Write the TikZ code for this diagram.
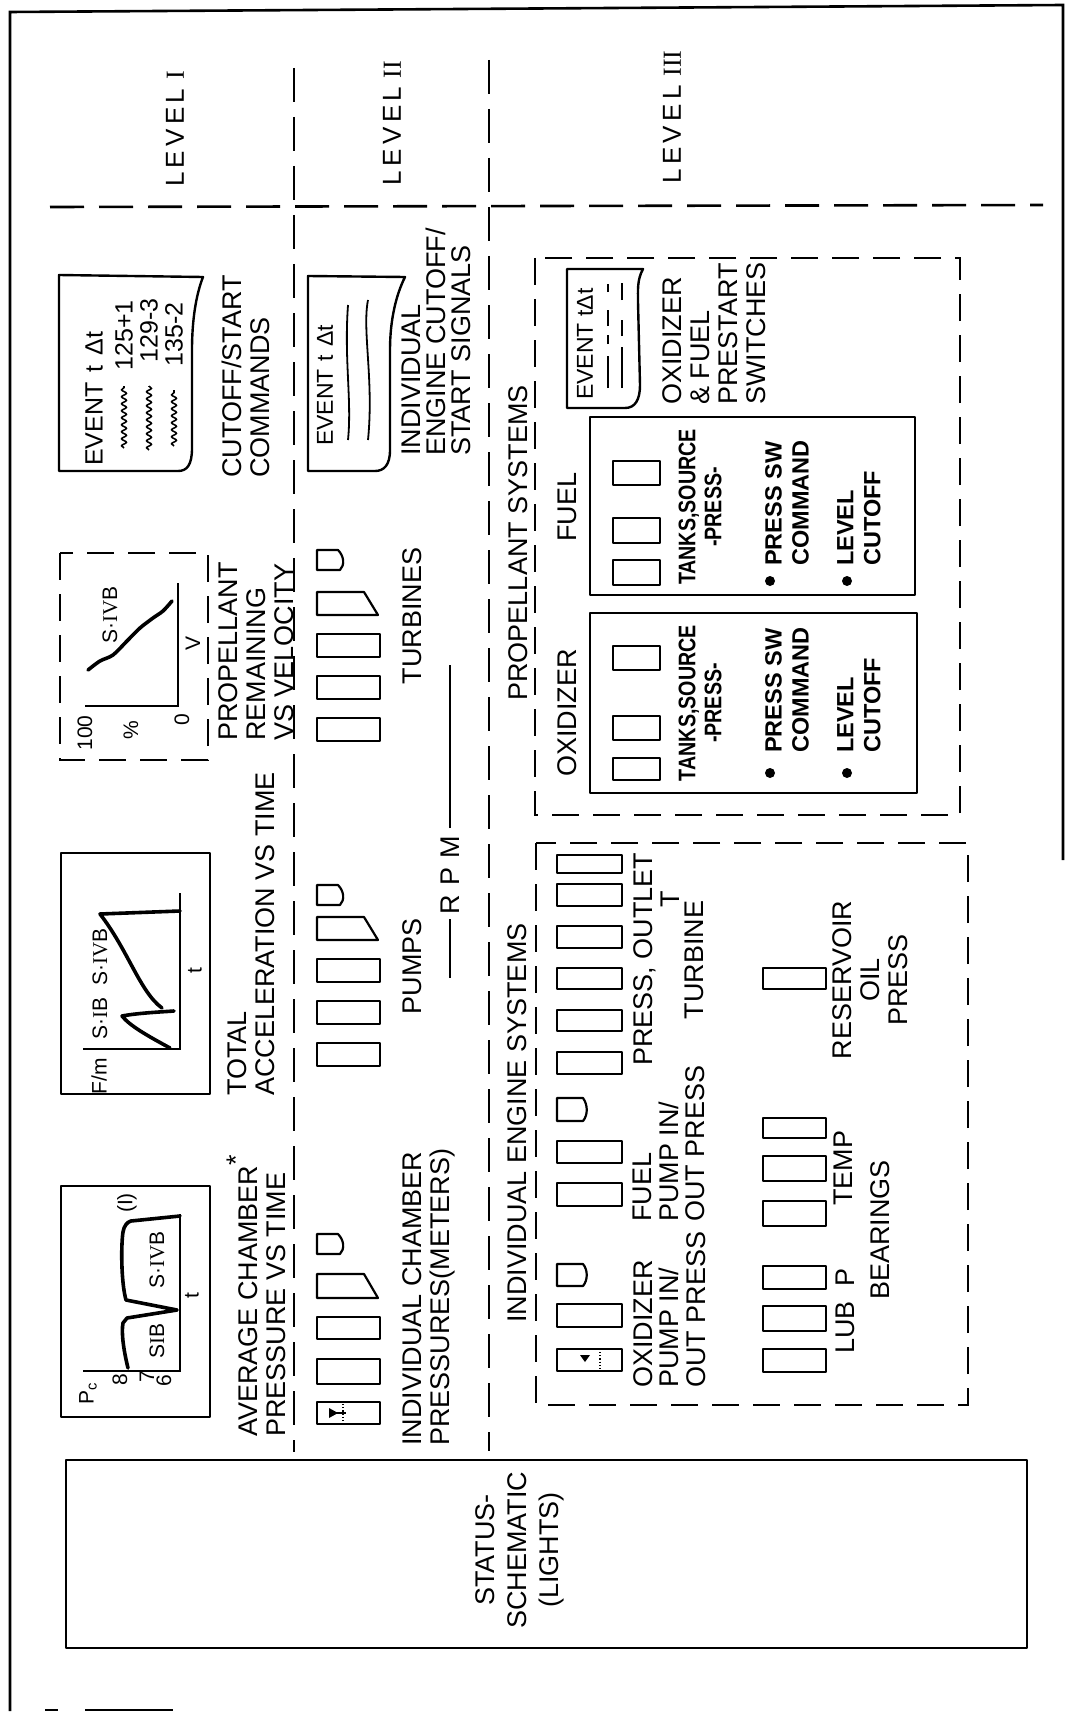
\documentclass[tikz,border=0pt]{standalone}
\usepackage{fontspec}
\setmainfont{Liberation Sans}
\newfontfamily\rmnum{Liberation Serif}
\usetikzlibrary{decorations.pathmorphing}
\newcommand\lblfont{\fontsize{27}{28}\selectfont}
\newcommand\lvlfont{\fontsize{26}{26}\selectfont}
\newcommand\evfont{\fontsize{23}{24}\selectfont}
\newcommand\evbigfont{\fontsize{25}{26}\selectfont}
\newcommand\tnkfont{\fontsize{24}{26}\selectfont\bfseries\addfontfeatures{FakeStretch=0.82}}
\newcommand\swfont{\fontsize{23.5}{27}\selectfont\bfseries}
\newcommand\chfont{\fontsize{21}{22}\selectfont}
\begin{document}
\begin{tikzpicture}[x=1pt,y=-1pt,
  outerframe/.style={line width=2.6pt},
  dline/.style={line width=2.6pt, dash pattern=on 34pt off 15pt},
  dbox/.style={line width=2.4pt, dash pattern=on 27pt off 14pt},
  sbox/.style={line width=2.4pt, line join=round},
  meter/.style={line width=2.2pt, line join=round},
  axis/.style={line width=2.4pt},
  curve/.style={line width=3.6pt, line cap=round, line join=round},
  lab/.style={rotate=90, inner sep=0pt, font=\lblfont, align=left},
  scrib/.style={line width=1.6pt, decorate, decoration={snake, amplitude=2.4pt, segment length=7pt}},
]
\useasboundingbox (0,0) rectangle (1067,1712);

% ---------- outer frame ----------
\draw[outerframe] (10,1711) -- (10,12) -- (1063,5) -- (1063,860);
\draw[outerframe] (45,1710) -- (58,1710) (85,1710) -- (173,1710);

% ---------- level dividers ----------
\draw[dline] (50,207) -- (1043,205);
\draw[dline] (294,68) -- (294,1452);
\draw[dline] (489,60) -- (489,1451);

\node[lab, font=\lvlfont] (lvlA) at (175,129) {L\,E\,V\,E\,L\,\,{\rmnum I}};
\node[lab, font=\lvlfont] (lvlB) at (392,123) {L\,E\,V\,E\,L\,\,{\rmnum II}};
\node[lab, font=\lvlfont] (lvlC) at (672,117) {L\,E\,V\,E\,L\,\,{\rmnum III}};

% ================= LEVEL I =================
% event box
\draw[sbox] (59,275) -- (203,277) .. controls (196,295) and (192,320) .. (192,350) -- (192,448)
  .. controls (192,465) and (187,471) .. (178,471) -- (59,471) -- cycle;
\node[lab, font=\evbigfont, anchor=west] (evA) at (94,466) {EVENT\hspace{10pt}t\hspace{10pt}Δt};
\node[lab, font=\evbigfont, anchor=east] (evA1) at (124,300) {125+1};
\node[lab, font=\evbigfont, anchor=east] (evA2) at (149,298) {129-3};
\node[lab, font=\evbigfont, anchor=east] (evA3) at (174,302) {135-2};
\draw[scrib] (124,448) -- (124,386);
\draw[scrib] (149,450) -- (149,386);
\draw[scrib] (174,446) -- (174,390);
\node[lab, anchor=north west] (cutcap) at (222,478) {CUTOFF/START\\COMMANDS};

% propellant chart
\draw[dbox] (60,553) rectangle (208,760);
\draw[axis] (85,706) -- (178,706) -- (178,583);
\draw[curve] plot[smooth] coordinates {(88,670) (100,661) (113,655) (127,641) (140,628) (153,618) (163,611) (172,601)};
\node[lab, font=\chfont] (p100) at (85,733) {100};
\node[lab, font=\chfont] (ppct) at (131,730) {\%};
\node[lab, font=\chfont] (p0) at (182,720) {0};
\node[lab, font=\chfont] (pv) at (193,643) {V};
\node[lab, font=\chfont] (psivb) at (110,615) {S·{\rmnum IV}B};
\node[lab, anchor=north west] (propcap) at (218,741) {PROPELLANT\\REMAINING\\VS VELOCITY};

% acceleration chart
\draw[sbox] (61,853) rectangle (210,1094);
\draw[axis] (83,1049) -- (180,1049) -- (180,893);
\draw[curve] (170,1048) .. controls (148,1036) and (130,1026) .. (122,1016)
  .. controls (138,1013) and (160,1012) .. (174,1011);
\draw[curve] (162,1008) .. controls (140,992) and (128,950) .. (100,914) -- (180,911);
\node[lab, font=\chfont] (afm) at (99,1076) {F/m};
\node[lab, font=\chfont] (asib) at (100,984) {S·{\rmnum I}B\ \ S·{\rmnum IV}B};
\node[lab, font=\chfont] (at) at (195,971) {t};
\node[lab, anchor=north west] (acccap) at (227,1096) {TOTAL\\ACCELERATION VS TIME};

% chamber pressure chart
\draw[sbox] (61,1186) rectangle (210,1417);
\draw[axis] (83,1371) -- (180,1371) -- (180,1214);
\draw[curve] (128,1368) .. controls (124,1352) and (121,1333) .. (123,1323) -- (127,1318)
  -- (177,1310) -- (126,1300) .. controls (121,1282) and (121,1245) .. (123,1232)
  .. controls (124,1226) and (127,1222) .. (131,1221) -- (180,1216);
\node[lab, font=\chfont] (pcl) at (88,1394) {P\textsubscript{c}};
\node[lab, font=\chfont] (p8) at (120,1380) {8};
\node[lab, font=\chfont] (p7) at (147,1377) {7};
\node[lab, font=\chfont] (p6) at (164,1381) {6};
\node[lab, font=\chfont] (psib) at (157,1341) {S{\rmnum I}B};
\node[lab, font=\chfont] (psivb2) at (157,1260) {S·{\rmnum IV}B};
\node[lab, font=\chfont] (ptt) at (192,1296) {t};
\node[lab, font=\chfont] (pone) at (127,1203) {(I)};
\node[lab, anchor=north west] (pccap) at (227,1437) {AVERAGE CHAMBER\raisebox{0.45em}{*}\\PRESSURE VS TIME};

% ================= LEVEL II =================
\draw[sbox] (308,276) -- (405,277) .. controls (396,295) and (390,320) .. (390,350) -- (390,450)
  .. controls (390,465) and (384,471) .. (375,471) -- (308,471) -- cycle;
\node[lab, font=\evfont, anchor=west] (evB) at (325,446) {EVENT\hspace{8pt}t\hspace{8pt}Δt};
\draw[line width=1.8pt] (348,440) .. controls (352,400) and (344,360) .. (348,305);
\draw[line width=1.8pt] (368,440) .. controls (374,380) and (362,330) .. (368,300);
\node[lab, anchor=north west, font=\fontsize{27}{25}\selectfont] (indcut) at (402,456) {INDIVIDUAL\\ENGINE CUTOFF/\\START SIGNALS};

% turbines meters
\draw[meter] (317,718) rectangle (380,741);
\draw[meter] (317,676) rectangle (380,699);
\draw[meter] (317,634) rectangle (380,657);
\draw[meter] (317,592) -- (317,615) -- (378,615) -- (364,592) -- cycle;
\draw[meter] (317,550) -- (317,570) -- (340,570) .. controls (345,565) and (344,556) .. (338,550) -- cycle;
\node[lab] (turb) at (412,616) {TURBINES};

% pumps meters
\draw[meter] (317,1043) rectangle (380,1066);
\draw[meter] (317,1001) rectangle (380,1024);
\draw[meter] (317,959) rectangle (380,982);
\draw[meter] (317,917) -- (317,940) -- (378,940) -- (364,917) -- cycle;
\draw[meter] (317,885) -- (317,905) -- (340,905) .. controls (345,900) and (344,891) .. (338,885) -- cycle;
\node[lab] (pumps) at (412,966) {PUMPS};

% rpm
\node[lab] (rpm) at (450,875) {R\,\,P\,\,M};
\coordinate (rpmA) at (450,828); \coordinate (rpmB) at (450,665);
\coordinate (rpmC) at (450,919); \coordinate (rpmD) at (450,978);
\draw[line width=2.2pt] (rpmA) -- (rpmB) (rpmC) -- (rpmD);

% chamber meters
\draw[meter] (317,1402) rectangle (380,1424);
\draw[line width=1.2pt, dotted] (343,1404) -- (343,1422);
\draw[line width=1.4pt] (329,1413) -- (346,1413);
\fill (329,1408) -- (338,1413) -- (329,1418) -- cycle;
\draw[meter] (317,1359) rectangle (380,1384);
\draw[meter] (317,1317) rectangle (380,1339);
\draw[meter] (317,1274) -- (317,1298) -- (378,1298) -- (364,1274) -- cycle;
\draw[meter] (317,1234) -- (317,1254) -- (340,1254) .. controls (345,1249) and (344,1240) .. (338,1234) -- cycle;
\node[lab, anchor=north west] (indch) at (402,1446) {INDIVIDUAL CHAMBER\\PRESSURES(METERS)};

% ================= LEVEL III =================
\node[lab] (propsys) at (518,543) {PROPELLANT SYSTEMS};
\draw[dbox] (535,258) rectangle (960,815);

\draw[sbox] (567,269) -- (643,269) .. controls (637,280) and (638,290) .. (638,302) -- (640,385)
  .. controls (640,400) and (635,408) .. (625,408) -- (567,408) -- cycle;
\node[lab, font=\evfont, anchor=west] (evC) at (585,400) {EVENT tΔt};
\draw[line width=1.6pt] (608,388) -- (608,356) (608,344) -- (608,335) (608,326) -- (608,310) (608,292) -- (608,284);
\draw[line width=1.6pt] (622,388) -- (622,347) (622,336) -- (622,320) (622,300) -- (622,283);
\node[lab, anchor=north west] (prestart) at (662,405) {OXIDIZER\\\& FUEL\\PRESTART\\SWITCHES};

% fuel sub-box
\draw[sbox] (590,417) rectangle (915,595);
\node[lab] (fuel) at (567,507) {FUEL};
\draw[meter] (613,560) rectangle (660,585);
\draw[meter] (613,518) rectangle (660,543);
\draw[meter] (613,461) rectangle (660,485);
\node[lab, font=\tnkfont, align=center] (fuelt) at (700,507) {TANKS,SOURCE\\-PRESS-};
\fill (770,581) circle (5pt);
\node[lab, font=\swfont, anchor=north west] (fuelsw) at (765,566) {PRESS SW\\COMMAND};
\fill (847,581) circle (5pt);
\node[lab, font=\swfont, anchor=north west] (fuellc) at (837,566) {LEVEL\\CUTOFF};

% oxidizer sub-box
\draw[sbox] (590,613) rectangle (917,793);
\node[lab] (ox) at (567,713) {OXIDIZER};
\draw[meter] (613,758) rectangle (660,780);
\draw[meter] (613,716) rectangle (660,740);
\draw[meter] (613,646) rectangle (660,670);
\node[lab, font=\tnkfont, align=center] (oxt) at (700,703) {TANKS,SOURCE\\-PRESS-};
\fill (770,773) circle (5pt);
\node[lab, font=\swfont, anchor=north west] (oxsw) at (765,753) {PRESS SW\\COMMAND};
\fill (847,773) circle (5pt);
\node[lab, font=\swfont, anchor=north west] (oxlc) at (837,753) {LEVEL\\CUTOFF};

% individual engine systems
\node[lab] (engsys) at (517,1123) {INDIVIDUAL ENGINE SYSTEMS};
\draw[dbox] (536,843) rectangle (968,1405);

% row 1 meters
\draw[meter] (557,1349) rectangle (622,1371);
\fill (580,1355) -- (590,1355) -- (585,1362) -- cycle;
\draw[line width=1.2pt, dotted] (600,1352) -- (600,1369);
\draw[meter] (557,1304) rectangle (622,1327);
\draw[meter] (557,1264) -- (557,1286) -- (583,1286) .. controls (588,1280) and (588,1270) .. (583,1264) -- cycle;
\draw[meter] (557,1183) rectangle (622,1206);
\draw[meter] (557,1141) rectangle (622,1163);
\draw[meter] (557,1098) -- (557,1121) -- (583,1121) .. controls (588,1115) and (588,1105) .. (583,1098) -- cycle;
\draw[meter] (557,1052) rectangle (622,1074);
\draw[meter] (557,1010) rectangle (622,1031);
\draw[meter] (557,968) rectangle (622,989);
\draw[meter] (557,926) rectangle (622,948);
\draw[meter] (557,884) rectangle (622,906);
\draw[meter] (557,855) rectangle (622,873);

\node[lab, anchor=north west, font=\fontsize{27}{26.5}\selectfont] (oxpump) at (633,1388) {OXIDIZER\\PUMP IN/\\OUT PRESS};
\node[lab, anchor=north west, font=\fontsize{27}{26.5}\selectfont] (fupump) at (633,1222) {FUEL\\PUMP IN/\\OUT PRESS};
\node[lab, anchor=north west] (tpress) at (633,1066) {PRESS, OUTLET};
\node[lab] (tT) at (670,899) {T};
\node[lab] (tname) at (694,960) {TURBINE};

% row 2 meters
\draw[meter] (763,1349) rectangle (826,1372);
\draw[meter] (763,1306) rectangle (826,1331);
\draw[meter] (763,1266) rectangle (826,1289);
\draw[meter] (763,1201) rectangle (826,1226);
\draw[meter] (763,1156) rectangle (826,1181);
\draw[meter] (763,1118) rectangle (826,1138);
\draw[meter] (763,968) rectangle (826,989);
\node[lab] (lubp) at (845,1311) {LUB\ \ P};
\node[lab] (temp) at (843,1168) {TEMP};
\node[lab] (bear) at (880,1230) {BEARINGS};
\node[lab, align=center] (resv) at (870,980) {RESERVOIR\\OIL\\PRESS};

% ---------- status ----------
\draw[sbox] (66,1460) rectangle (1027,1648);
\node[lab, align=center, font=\fontsize{27}{32}\selectfont] (status) at (520,1550) {STATUS-\\SCHEMATIC\\(LIGHTS)};
\end{tikzpicture}
\end{document}
